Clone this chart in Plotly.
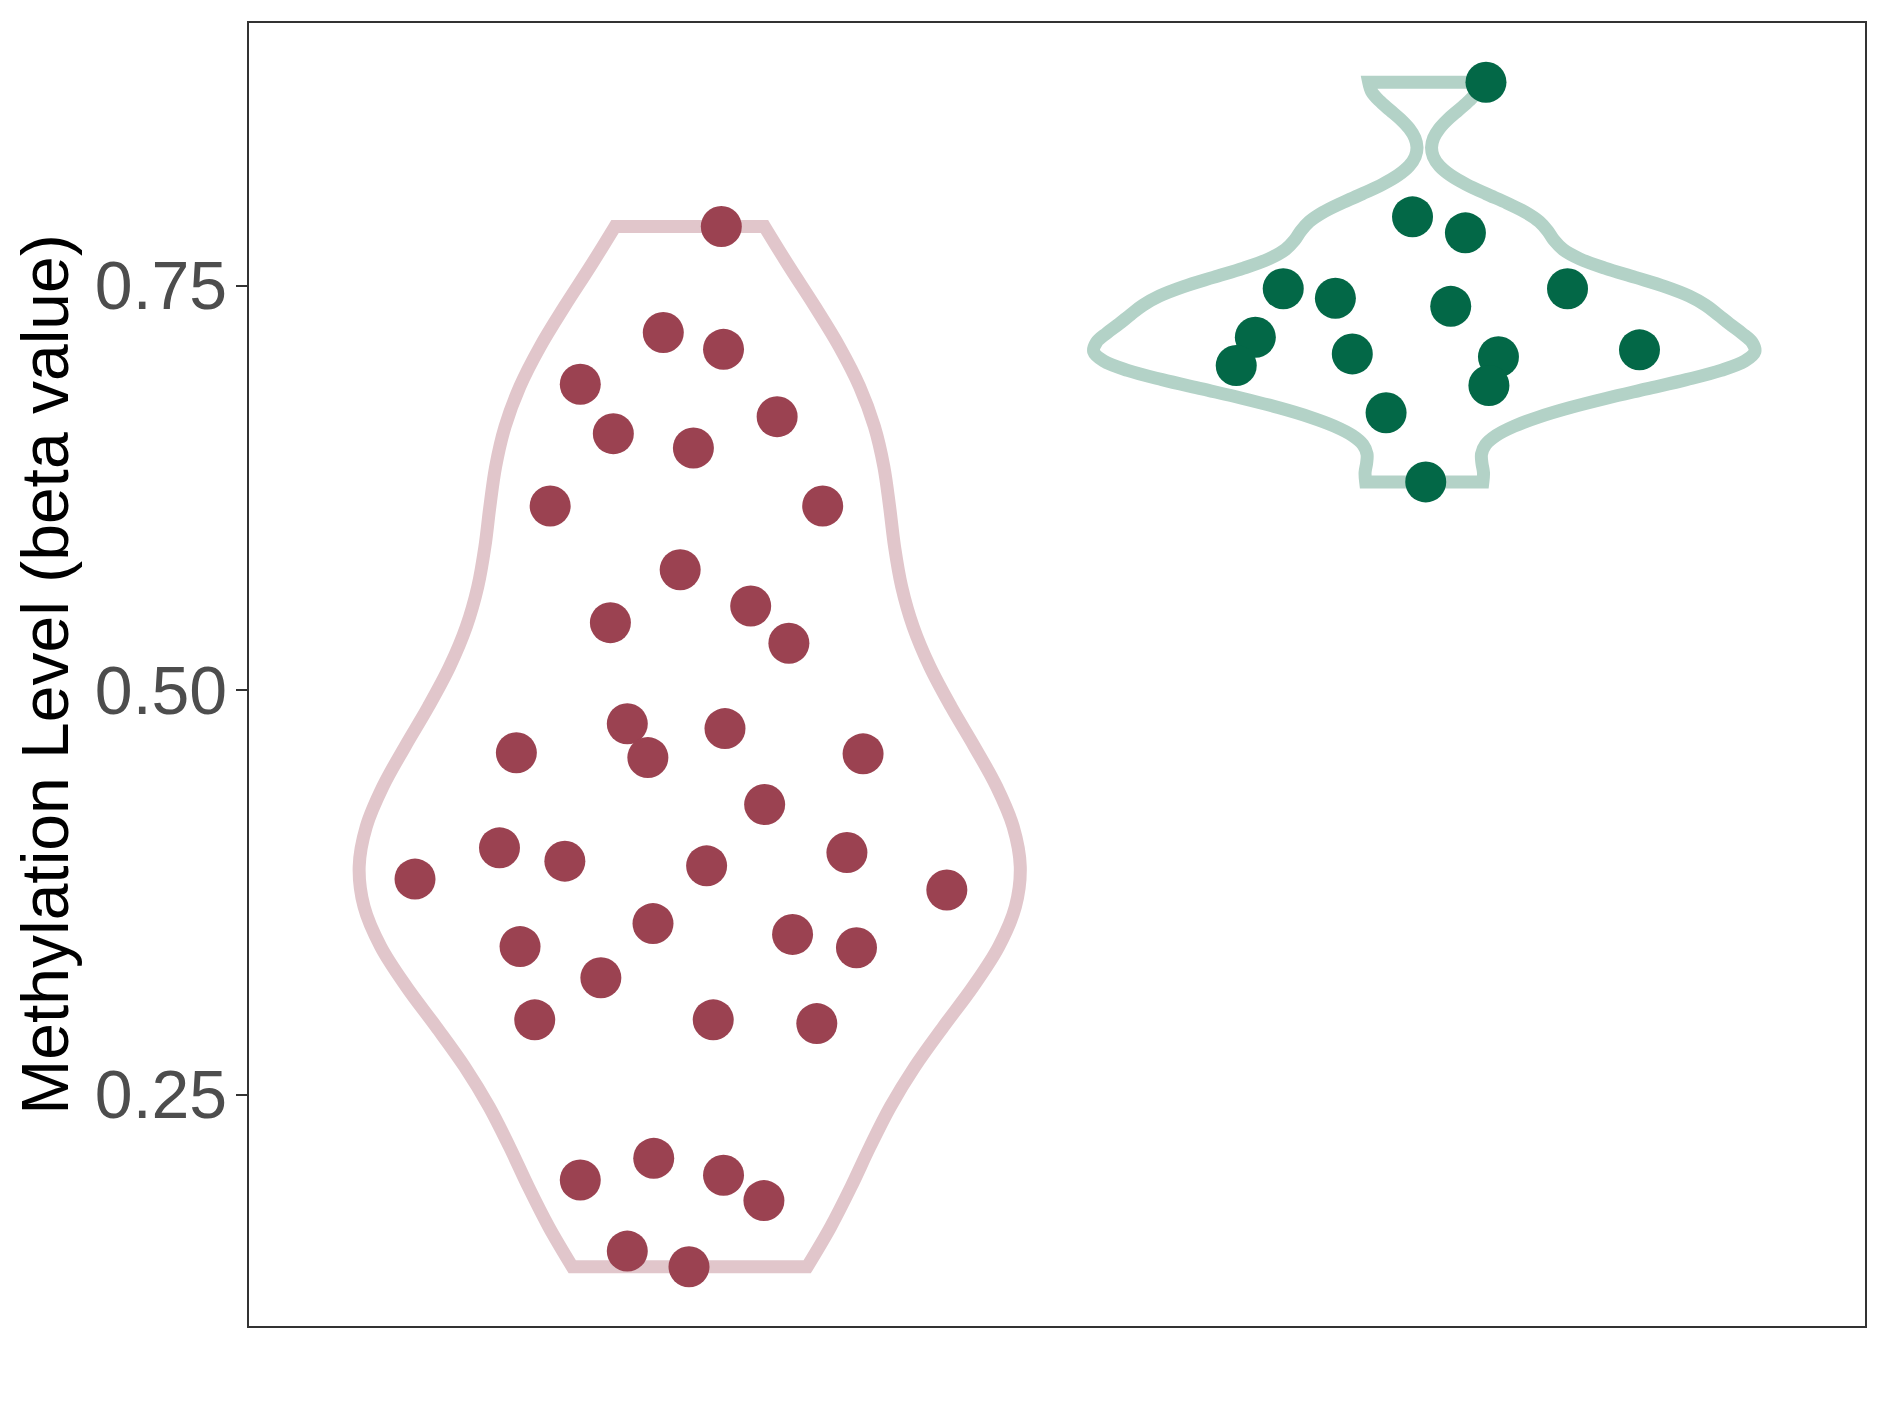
import numpy as np
import plotly.graph_objects as go

# ---- data ----
group_a_values = [0.7865, 0.7210, 0.7106, 0.6890, 0.6585, 0.6690, 0.6496, 0.6138, 0.6138,
                  0.5744, 0.5520, 0.5417, 0.5290, 0.4792, 0.4762, 0.4583, 0.4613, 0.4606,
                  0.4293, 0.4025, 0.3996, 0.3943, 0.3914, 0.3832, 0.3765, 0.3557, 0.3490,
                  0.3415, 0.3408, 0.3222, 0.2962, 0.2962, 0.2939, 0.2106, 0.1972, 0.2002,
                  0.1845, 0.1533, 0.1436]
group_a_jitter = [0.043, -0.036, 0.046, -0.149, -0.104, 0.119, 0.005, -0.190, 0.181,
                  -0.013, 0.083, -0.108, 0.135, -0.085, 0.048, -0.057, -0.236, 0.236,
                  0.102, -0.259, 0.214, -0.170, 0.023, -0.374, 0.350, -0.050, 0.140,
                  -0.231, 0.227, -0.121, -0.211, 0.032, 0.173, -0.049, -0.149, 0.046,
                  0.101, -0.085, -0.001]
group_b_values = [0.8757, 0.7925, 0.7826, 0.7481, 0.7481, 0.7422, 0.7372, 0.7181, 0.7103,
                  0.7078, 0.7060, 0.7006, 0.6883, 0.6714, 0.6287]
group_b_jitter = [0.084, -0.016, 0.056, -0.192, 0.195, -0.121, 0.036, -0.230, 0.293,
                  -0.098, 0.101, -0.256, 0.088, -0.052, 0.002]
group_positions = [1, 2]
y_ticks = [0.25, 0.50, 0.75]
y_tick_labels = ["0.25", "0.50", "0.75"]
y_title = "Methylation Level (beta value)"

point_colors = ["#9B4251", "#036847"]
line_colors = ["#E1C6CB", "#B3D2C7"]


def bw_nrd0(v):
    v = np.asarray(v, dtype=float)
    sd = v.std(ddof=1)
    q75, q25 = np.percentile(v, [75, 25])
    lo = min(sd, (q75 - q25) / 1.34)
    return 0.9 * lo * len(v) ** (-0.2)


fig = go.Figure()
groups = [(group_a_values, group_a_jitter), (group_b_values, group_b_jitter)]
for i, (vals, jit) in enumerate(groups):
    pos = group_positions[i]
    fig.add_trace(go.Violin(
        x=[pos] * len(vals), y=vals,
        bandwidth=bw_nrd0(vals),
        spanmode="hard", scalemode="width", width=0.9,
        points=False, box_visible=False, meanline_visible=False,
        line=dict(color=line_colors[i], width=13),
        fillcolor="rgba(255,255,255,0)",
        hoverinfo="skip", showlegend=False,
    ))
for i, (vals, jit) in enumerate(groups):
    pos = group_positions[i]
    fig.add_trace(go.Scatter(
        x=[pos + j for j in jit], y=vals, mode="markers",
        marker=dict(color=point_colors[i], size=41, line=dict(width=0)),
        showlegend=False, hoverinfo="skip",
    ))

all_vals = np.array(group_a_values + group_b_values)
span = all_vals.max() - all_vals.min()
y_range = [all_vals.min() - 0.05 * span, all_vals.max() + 0.05 * span]

# the page body adds an 8px offset, so the figure is 8px smaller on each axis
fig.update_layout(
    width=1881, height=1409,
    margin=dict(l=241, r=24, t=15, b=91),
    paper_bgcolor="white", plot_bgcolor="white",
    font=dict(family="Liberation Sans, Arial, sans-serif"),
    xaxis=dict(range=[0.4, 2.6], showticklabels=False, ticks="", showgrid=False,
               zeroline=False, showline=True, mirror=True, linecolor="#333333", linewidth=2.4),
    yaxis=dict(range=y_range, tickvals=y_ticks, ticktext=y_tick_labels,
               ticks="outside", ticklen=11, tickwidth=2.4, tickcolor="#333333",
               tickfont=dict(size=68, color="#4D4D4D"), ticklabelstandoff=-5,
               showgrid=False, zeroline=False, showline=True, mirror=True,
               linecolor="#333333", linewidth=2.4,
               title=dict(text=y_title, font=dict(size=66, color="black"), standoff=5)),
)

fig.write_html("out.html")
